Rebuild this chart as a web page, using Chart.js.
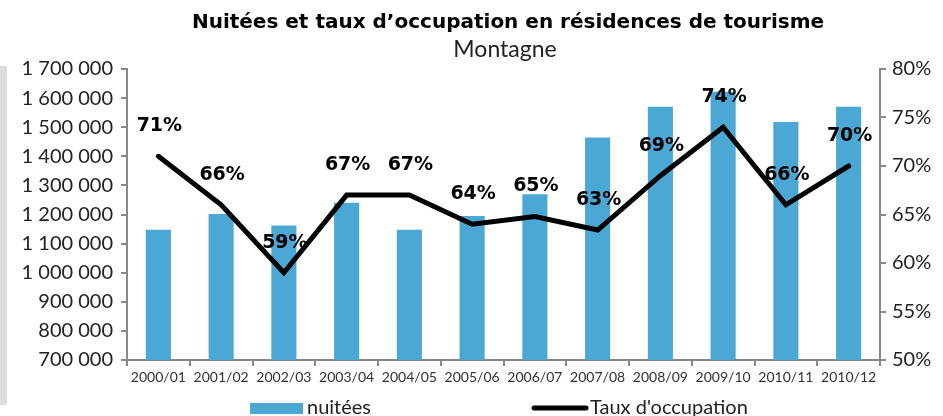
<!DOCTYPE html>
<html>
<head>
<meta charset="utf-8">
<script src="https://cdn.jsdelivr.net/npm/chart.js@4/dist/chart.umd.min.js"></script>
<style>
  html, body { margin: 0; padding: 0; background: #fff; }
  #wrap { width: 943px; height: 416px; position: relative; }
</style>
</head>
<body>
<div id="wrap"><canvas id="chart"></canvas></div>
<script>
// Données
var saisons = ['2000/01', '2001/02', '2002/03', '2003/04', '2004/05', '2005/06',
               '2006/07', '2007/08', '2008/09', '2009/10', '2010/11', '2010/12'];
var nuitees = [1148000, 1202000, 1162000, 1240000, 1148000, 1195000,
               1270000, 1465000, 1570000, 1622000, 1518000, 1570000];
var tauxOccupation = [71.0, 66.0, 59.0, 67.0, 67.0, 64.0,
                      64.8, 63.4, 69.0, 74.0, 66.0, 70.0];
var titre = 'Nuitées et taux d\u2019occupation en résidences de tourisme';
var sousTitre = 'Montagne';

var police = 'Lato, "Noto Sans", sans-serif';
var policeGrasse = '"DejaVu Sans", sans-serif';

function formatMilliers(v) {
    return String(v).replace(/\B(?=(\d{3})+(?!\d))/g, ' ');
}

// Titre, bande grise, étiquettes et légende dessinés à la main
var decor = {
    id: 'decor',
    beforeDraw: function(chart) {
        var ctx = chart.ctx;
        ctx.save();
        ctx.fillStyle = '#dcdcdc';
        ctx.fillRect(0, 66, 7, 339);
        ctx.restore();
    },
    afterDraw: function(chart) {
        var ctx = chart.ctx;
        ctx.save();
        ctx.fillStyle = '#000';
        ctx.textAlign = 'center';
        ctx.textBaseline = 'middle';
        ctx.font = 'bold 20px ' + policeGrasse;
        ctx.fillText(titre, 508, 23);
        ctx.font = '23px ' + police;
        ctx.fillStyle = '#222';
        ctx.fillText(sousTitre, 505, 50);

        // étiquettes du taux
        var meta = chart.getDatasetMeta(1);
        ctx.font = 'bold 19px ' + policeGrasse;
        ctx.fillStyle = '#000';
        meta.data.forEach(function(pt, i) {
            ctx.fillText(Math.round(tauxOccupation[i]) + '%', pt.x + 1, pt.y - 30);
        });

        // légende
        ctx.fillStyle = '#4ba8d4';
        ctx.fillRect(250, 403, 53, 11);
        ctx.strokeStyle = '#000';
        ctx.lineWidth = 5;
        ctx.lineCap = 'round';
        ctx.beginPath();
        ctx.moveTo(534, 408);
        ctx.lineTo(586, 408);
        ctx.stroke();
        ctx.font = '20px ' + police;
        ctx.fillStyle = '#222';
        ctx.textAlign = 'left';
        ctx.fillText('nuitées', 307, 408);
        ctx.fillText('Taux d\'occupation', 590, 408);
        ctx.restore();
    }
};

var ctx = document.getElementById('chart').getContext('2d');
var chart = new Chart(ctx, {
    type: 'bar',
    data: {
        labels: saisons,
        datasets: [{
            label: 'nuitées',
            data: nuitees,
            backgroundColor: '#4ba8d4',
            borderWidth: 0,
            barPercentage: 0.4,
            categoryPercentage: 1,
            yAxisID: 'y',
            order: 2
        }, {
            type: 'line',
            label: 'Taux d\'occupation',
            data: tauxOccupation,
            borderColor: '#000',
            borderWidth: 5,
            borderJoinStyle: 'miter',
            borderCapStyle: 'round',
            pointRadius: 0,
            tension: 0,
            fill: false,
            yAxisID: 'y1',
            order: 1
        }]
    },
    options: {
        responsive: true,
        maintainAspectRatio: false,
        animation: false,
        layout: { padding: { top: 69, bottom: 24, left: 0, right: 0 } },
        plugins: {
            legend: { display: false },
            tooltip: { enabled: false }
        },
        scales: {
            x: {
                grid: { display: true, drawOnChartArea: false, drawTicks: true, tickLength: 6, color: '#888', lineWidth: 2, offset: true },
                border: { display: true, color: '#888', width: 2 },
                ticks: { color: '#333', font: { family: police, size: 14 }, padding: 3, maxRotation: 0, autoSkip: false },
                afterFit: function(scale) { scale.height = 32; }
            },
            y: {
                position: 'left',
                min: 700000,
                max: 1700000,
                grid: { display: true, drawOnChartArea: false, drawTicks: true, tickLength: 6, color: '#888', lineWidth: 2 },
                border: { display: true, color: '#888', width: 2 },
                ticks: {
                    stepSize: 100000,
                    color: '#222',
                    font: { family: police, size: 20 },
                    padding: 8,
                    callback: function(v) { return formatMilliers(v); }
                },
                afterFit: function(scale) { scale.width = 127; }
            },
            y1: {
                position: 'right',
                min: 50,
                max: 80,
                grid: { display: true, drawOnChartArea: false, drawTicks: true, tickLength: 6, color: '#888', lineWidth: 2 },
                border: { display: true, color: '#888', width: 2 },
                ticks: {
                    stepSize: 5,
                    color: '#222',
                    font: { family: police, size: 20 },
                    padding: 6,
                    callback: function(v) { return v + '%'; }
                },
                afterFit: function(scale) { scale.width = 63; }
            }
        }
    },
    plugins: [decor]
});
</script>
</body>
</html>
